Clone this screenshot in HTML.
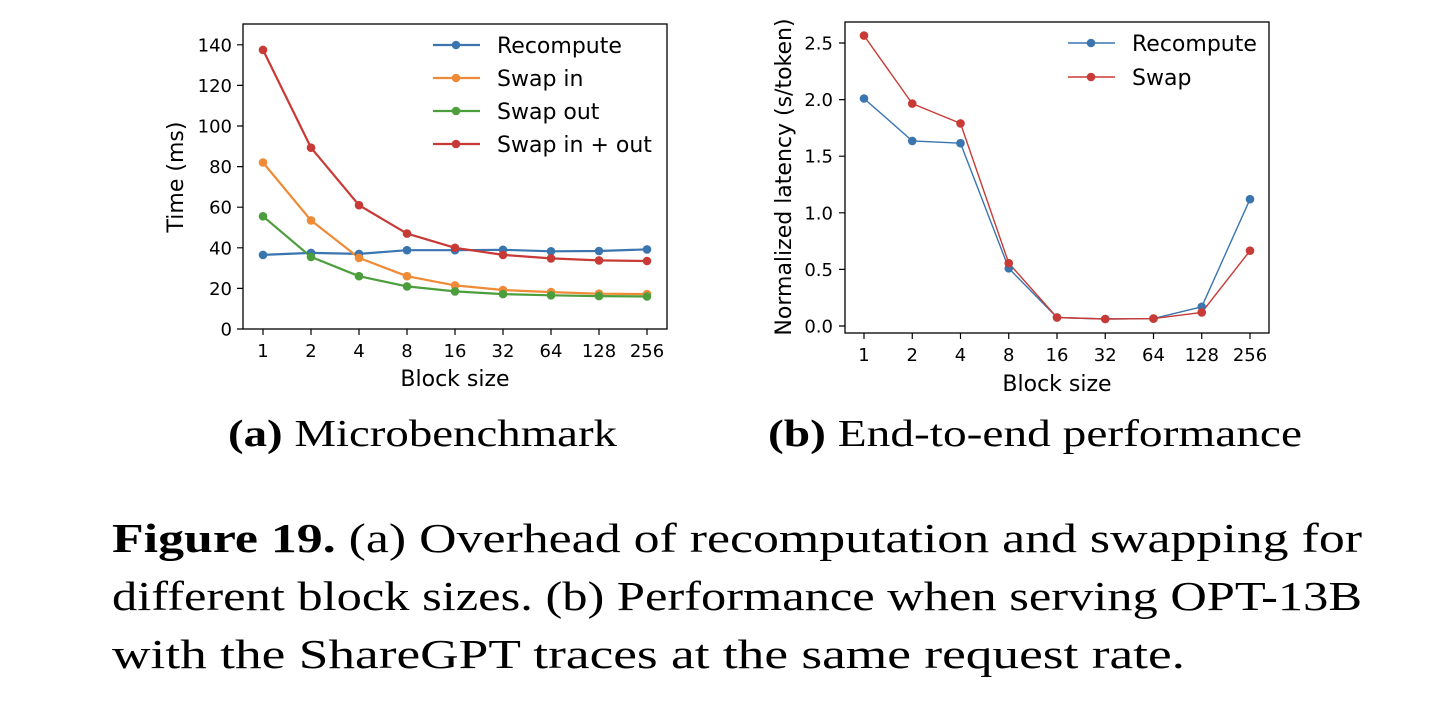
<!DOCTYPE html>
<html><head><meta charset="utf-8"><style>
html,body{margin:0;padding:0;background:#fff;}
svg{display:block;}
.t{font-family:"DejaVu Sans","Liberation Sans",sans-serif;fill:#000;}
.s{font-family:"Liberation Serif",serif;fill:#000;}
</style></head><body>
<svg width="1444" height="716" viewBox="0 0 1444 716" xmlns="http://www.w3.org/2000/svg">
<rect width="1444" height="716" fill="#fff"/>
<!-- LEFT PLOT -->
<g class="t" font-size="18">
<g text-anchor="end">
<text x="232" y="335.5">0</text><text x="232" y="294.9">20</text><text x="232" y="254.3">40</text><text x="232" y="213.7">60</text><text x="232" y="173.1">80</text><text x="232" y="132.5">100</text><text x="232" y="91.9">120</text><text x="232" y="51.3">140</text>
</g>
<g text-anchor="middle">
<text x="263" y="357">1</text><text x="311" y="357">2</text><text x="359" y="357">4</text><text x="407" y="357">8</text><text x="455" y="357">16</text><text x="503" y="357">32</text><text x="551" y="357">64</text><text x="599" y="357">128</text><text x="647" y="357">256</text>
</g>
<text x="455" y="386" text-anchor="middle" font-size="22">Block size</text>
<text transform="translate(183,177) rotate(-90)" text-anchor="middle" font-size="22">Time (ms)</text>
</g>
<g stroke="#000" stroke-width="1.2">
<path d="M243 329h-6M243 288.4h-6M243 247.8h-6M243 207.2h-6M243 166.6h-6M243 126h-6M243 85.4h-6M243 44.8h-6"/>
<path d="M263 329v6M311 329v6M359 329v6M407 329v6M455 329v6M503 329v6M551 329v6M599 329v6M647 329v6"/>
</g>
<g fill="none" stroke-width="2.2" stroke-linejoin="round">
<polyline stroke="#3a75b0" points="263,254.9 311,252.9 359,253.9 407,250.2 455,250.2 503,249.8 551,251.3 599,251 647,249.4"/>
<polyline stroke="#ef8a36" points="263,162.5 311,220.4 359,257.9 407,276.2 455,285.4 503,290 551,292.1 599,293.7 647,294.1"/>
<polyline stroke="#4c9e3c" points="263,216.3 311,256.9 359,276.2 407,286.4 455,291.4 503,294.1 551,295.3 599,296.1 647,296.5"/>
<polyline stroke="#c83a36" points="263,49.9 311,147.7 359,205.2 407,233.6 455,247.8 503,254.9 551,258.4 599,260.4 647,261"/>
</g>
<g fill="#3a75b0"><circle cx="263" cy="254.9" r="4.3"/><circle cx="311" cy="252.9" r="4.3"/><circle cx="359" cy="253.9" r="4.3"/><circle cx="407" cy="250.2" r="4.3"/><circle cx="455" cy="250.2" r="4.3"/><circle cx="503" cy="249.8" r="4.3"/><circle cx="551" cy="251.3" r="4.3"/><circle cx="599" cy="251" r="4.3"/><circle cx="647" cy="249.4" r="4.3"/></g>
<g fill="#ef8a36"><circle cx="263" cy="162.5" r="4.3"/><circle cx="311" cy="220.4" r="4.3"/><circle cx="359" cy="257.9" r="4.3"/><circle cx="407" cy="276.2" r="4.3"/><circle cx="455" cy="285.4" r="4.3"/><circle cx="503" cy="290" r="4.3"/><circle cx="551" cy="292.1" r="4.3"/><circle cx="599" cy="293.7" r="4.3"/><circle cx="647" cy="294.1" r="4.3"/></g>
<g fill="#4c9e3c"><circle cx="263" cy="216.3" r="4.3"/><circle cx="311" cy="256.9" r="4.3"/><circle cx="359" cy="276.2" r="4.3"/><circle cx="407" cy="286.4" r="4.3"/><circle cx="455" cy="291.4" r="4.3"/><circle cx="503" cy="294.1" r="4.3"/><circle cx="551" cy="295.3" r="4.3"/><circle cx="599" cy="296.1" r="4.3"/><circle cx="647" cy="296.5" r="4.3"/></g>
<g fill="#c83a36"><circle cx="263" cy="49.9" r="4.3"/><circle cx="311" cy="147.7" r="4.3"/><circle cx="359" cy="205.2" r="4.3"/><circle cx="407" cy="233.6" r="4.3"/><circle cx="455" cy="247.8" r="4.3"/><circle cx="503" cy="254.9" r="4.3"/><circle cx="551" cy="258.4" r="4.3"/><circle cx="599" cy="260.4" r="4.3"/><circle cx="647" cy="261" r="4.3"/></g>
<!-- legend left -->
<g stroke-width="2.2">
<line x1="433" y1="45" x2="480" y2="45" stroke="#3a75b0"/><line x1="433" y1="78" x2="480" y2="78" stroke="#ef8a36"/><line x1="433" y1="111" x2="480" y2="111" stroke="#4c9e3c"/><line x1="433" y1="144" x2="480" y2="144" stroke="#c83a36"/>
</g>
<circle cx="456" cy="45" r="4.3" fill="#3a75b0"/><circle cx="456" cy="78" r="4.3" fill="#ef8a36"/><circle cx="456" cy="111" r="4.3" fill="#4c9e3c"/><circle cx="456" cy="144" r="4.3" fill="#c83a36"/>
<g class="t" font-size="22">
<text x="497" y="53">Recompute</text><text x="497" y="86">Swap in</text><text x="497" y="119">Swap out</text><text x="497" y="152">Swap in + out</text>
</g>
<rect x="243" y="24" width="424" height="305" fill="none" stroke="#000" stroke-width="1.3"/>

<!-- RIGHT PLOT -->
<g class="t" font-size="18">
<g text-anchor="end">
<text x="833" y="332.5">0.0</text><text x="833" y="275.9">0.5</text><text x="833" y="219.3">1.0</text><text x="833" y="162.7">1.5</text><text x="833" y="106.1">2.0</text><text x="833" y="49.5">2.5</text>
</g>
<g text-anchor="middle">
<text x="864" y="361">1</text><text x="912.25" y="361">2</text><text x="960.5" y="361">4</text><text x="1008.75" y="361">8</text><text x="1057" y="361">16</text><text x="1105.25" y="361">32</text><text x="1153.5" y="361">64</text><text x="1201.75" y="361">128</text><text x="1250" y="361">256</text>
</g>
<text x="1057" y="391" text-anchor="middle" font-size="22">Block size</text>
<text transform="translate(791,177) rotate(-90)" text-anchor="middle" font-size="22">Normalized latency (s/token)</text>
</g>
<g stroke="#000" stroke-width="1.2">
<path d="M845 326h-6M845 269.4h-6M845 212.8h-6M845 156.2h-6M845 99.6h-6M845 43h-6"/>
<path d="M864 333v6M912.25 333v6M960.5 333v6M1008.75 333v6M1057 333v6M1105.25 333v6M1153.5 333v6M1201.75 333v6M1250 333v6"/>
</g>
<g fill="none" stroke-width="1.4" stroke-linejoin="round">
<polyline stroke="#3a75b0" points="864,98.5 912.25,140.9 960.5,143.2 1008.75,268.3 1057,317.5 1105.25,319 1153.5,318.6 1201.75,306.8 1250,199.2"/>
<polyline stroke="#c83a36" points="864,35.6 912.25,103.6 960.5,123.4 1008.75,263.2 1057,317.5 1105.25,319 1153.5,318.6 1201.75,312.4 1250,250.7"/>
</g>
<g fill="#3a75b0"><circle cx="864" cy="98.5" r="4.3"/><circle cx="912.25" cy="140.9" r="4.3"/><circle cx="960.5" cy="143.2" r="4.3"/><circle cx="1008.75" cy="268.3" r="4.3"/><circle cx="1057" cy="317.5" r="4.3"/><circle cx="1105.25" cy="319" r="4.3"/><circle cx="1153.5" cy="318.6" r="4.3"/><circle cx="1201.75" cy="306.8" r="4.3"/><circle cx="1250" cy="199.2" r="4.3"/></g>
<g fill="#c83a36"><circle cx="864" cy="35.6" r="4.3"/><circle cx="912.25" cy="103.6" r="4.3"/><circle cx="960.5" cy="123.4" r="4.3"/><circle cx="1008.75" cy="263.2" r="4.3"/><circle cx="1057" cy="317.5" r="4.3"/><circle cx="1105.25" cy="319" r="4.3"/><circle cx="1153.5" cy="318.6" r="4.3"/><circle cx="1201.75" cy="312.4" r="4.3"/><circle cx="1250" cy="250.7" r="4.3"/></g>
<line x1="1068" y1="43" x2="1115" y2="43" stroke="#3a75b0" stroke-width="1.4"/><line x1="1068" y1="77" x2="1115" y2="77" stroke="#c83a36" stroke-width="1.4"/>
<circle cx="1091" cy="43" r="4.3" fill="#3a75b0"/><circle cx="1091" cy="77" r="4.3" fill="#c83a36"/>
<g class="t" font-size="22"><text x="1132" y="51">Recompute</text><text x="1132" y="85">Swap</text></g>
<rect x="845" y="22" width="424" height="311" fill="none" stroke="#000" stroke-width="1.3"/>

<!-- CAPTIONS -->
<g class="s" font-size="38">
<text x="228" y="446" textLength="389" lengthAdjust="spacingAndGlyphs"><tspan font-weight="bold">(a)</tspan> Microbenchmark</text>
<text x="768" y="446" textLength="534" lengthAdjust="spacingAndGlyphs"><tspan font-weight="bold">(b)</tspan> End-to-end performance</text>
</g>
<g class="s" font-size="41">
<text x="112" y="552" textLength="1250" lengthAdjust="spacingAndGlyphs"><tspan font-weight="bold">Figure 19.</tspan> (a) Overhead of recomputation and swapping for</text>
<text x="112" y="610" textLength="1250" lengthAdjust="spacingAndGlyphs">different block sizes. (b) Performance when serving OPT-13B</text>
<text x="112" y="668" textLength="1073" lengthAdjust="spacingAndGlyphs">with the ShareGPT traces at the same request rate.</text>
</g>
</svg>
</body></html>
